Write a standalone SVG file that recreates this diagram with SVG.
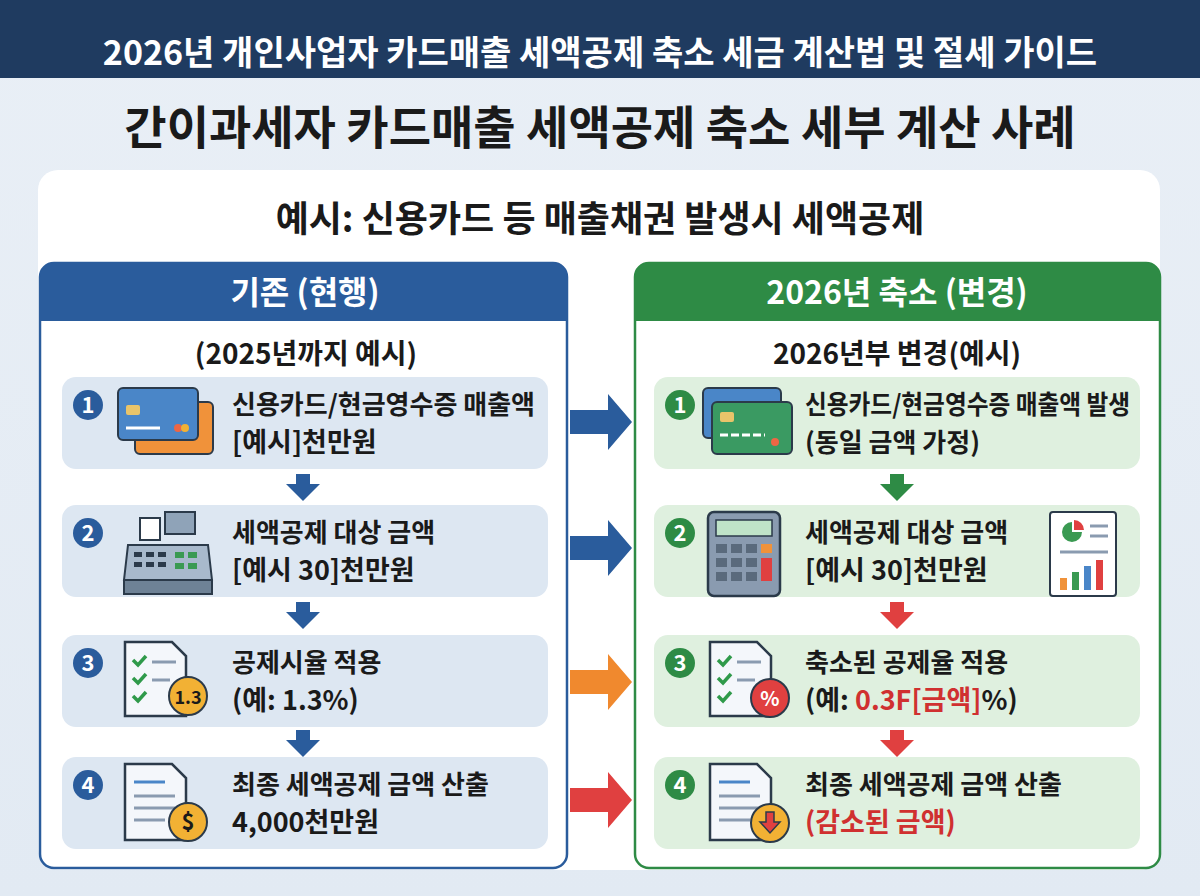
<svg xmlns="http://www.w3.org/2000/svg" width="1200" height="896" viewBox="0 0 1200 896">
<style>
text{font-family:"Noto Sans CJK KR","Noto Sans",sans-serif;font-weight:700;fill:#1a1a1a}
.lstep{fill:#dde7f2}
.rstep{fill:#dff0df}
.num{font-size:22px;fill:#fff;text-anchor:middle}
.t1{font-size:26px}
.t2{font-size:27px}
.doc{fill:#f4f7fb;stroke:#2b3a4a;stroke-width:2.5}
.ln{stroke:#8a9bb0;stroke-width:3}
.chk{fill:none;stroke:#2f9a4a;stroke-width:3.5}
</style>
<defs>
<linearGradient id="bg" x1="0" y1="0" x2="0" y2="1"><stop offset="0" stop-color="#e9eff6"/><stop offset="1" stop-color="#e2eaf3"/></linearGradient>
</defs>
<rect width="1200" height="896" fill="url(#bg)"/>
<rect width="1200" height="78" fill="#1f3b60"/>
<text x="600" y="65" font-size="34" text-anchor="middle" style="fill:#fff">2026년 개인사업자 카드매출 세액공제 축소 세금 계산법 및 절세 가이드</text>
<text x="600" y="144" font-size="46" text-anchor="middle">간이과세자 카드매출 세액공제 축소 세부 계산 사례</text>
<rect x="38" y="170" width="1122" height="700" rx="20" fill="#fff"/>
<text x="600" y="232" font-size="36" text-anchor="middle">예시: 신용카드 등 매출채권 발생시 세액공제</text>

<g id="left-col">
<rect x="40" y="263" width="527" height="605" rx="14" fill="#fff" stroke="#2a5c9c" stroke-width="2.5"/>
<path d="M40 321 V277 a14 14 0 0 1 14 -14 H553 a14 14 0 0 1 14 14 V321 Z" fill="#2a5c9c"/>
<text x="305" y="304" font-size="32" text-anchor="middle" style="fill:#fff">기존 (현행)</text>
<text x="306" y="364" font-size="28" text-anchor="middle">(2025년까지 예시)</text>
</g>
<g id="right-col">
<rect x="635" y="263" width="525" height="605" rx="14" fill="#fff" stroke="#2e8b45" stroke-width="2.5"/>
<path d="M635 321 V277 a14 14 0 0 1 14 -14 H1146 a14 14 0 0 1 14 14 V321 Z" fill="#2e8b45"/>
<text x="897" y="304" font-size="32" text-anchor="middle" style="fill:#fff">2026년 축소 (변경)</text>
<text x="897" y="364" font-size="28" text-anchor="middle">2026년부 변경(예시)</text>
</g>

<g id="L1">
<rect class="lstep" x="62" y="377" width="486" height="92" rx="14"/>
<circle cx="88" cy="405" r="15" fill="#2a5c9c"/><text class="num" x="88" y="413">1</text>
<rect x="135" y="402" width="78" height="52" rx="5" fill="#f0923a" stroke="#2b3a4a" stroke-width="2"/>
<rect x="118" y="388" width="80" height="52" rx="5" fill="#4a86c8" stroke="#2b3a4a" stroke-width="2"/>
<rect x="126" y="405" width="14" height="10" rx="2" fill="#e9c46a"/>
<line x1="126" y1="428" x2="160" y2="428" stroke="#fff" stroke-width="3"/>
<circle cx="178" cy="428" r="4" fill="#e64"/><circle cx="185" cy="428" r="4" fill="#f2b134"/>
<text class="t1" x="232" y="414">신용카드/현금영수증 매출액</text>
<text class="t2" x="232" y="452">[예시]천만원</text>
</g>
<g id="L2">
<rect class="lstep" x="62" y="505" width="486" height="92" rx="14"/>
<circle cx="88" cy="533" r="15" fill="#2a5c9c"/><text class="num" x="88" y="541">2</text>
<rect x="165" y="512" width="30" height="22" fill="#8fa3b8" stroke="#2b3a4a" stroke-width="2"/>
<rect x="140" y="518" width="20" height="22" fill="#fff" stroke="#2b3a4a" stroke-width="2"/>
<path d="M128 545 H208 L212 580 H124 Z" fill="#a8b9cc" stroke="#2b3a4a" stroke-width="2"/>
<rect x="124" y="580" width="88" height="14" fill="#6e8296" stroke="#2b3a4a" stroke-width="2"/>
<g fill="#2b3a4a"><rect x="134" y="552" width="8" height="5"/><rect x="146" y="552" width="8" height="5"/><rect x="158" y="552" width="8" height="5"/><rect x="134" y="562" width="8" height="5"/><rect x="146" y="562" width="8" height="5"/><rect x="158" y="562" width="8" height="5"/></g>
<g fill="#3a9a52"><rect x="175" y="552" width="9" height="6"/><rect x="188" y="552" width="9" height="6"/><rect x="175" y="563" width="9" height="6"/><rect x="188" y="563" width="9" height="6"/></g>
<text class="t1" x="232" y="542">세액공제 대상 금액</text>
<text class="t2" x="232" y="580">[예시 30]천만원</text>
</g>
<g id="L3">
<rect class="lstep" x="62" y="635" width="486" height="92" rx="14"/>
<circle cx="88" cy="663" r="15" fill="#2a5c9c"/><text class="num" x="88" y="671">3</text>
<path class="doc" d="M125 642 H172 L186 656 V716 H125 Z"/>
<path class="chk" d="M133 660 l5 5 l8 -9 M133 678 l5 5 l8 -9 M133 696 l5 5 l8 -9"/>
<line class="ln" x1="152" y1="662" x2="176" y2="662"/><line class="ln" x1="152" y1="680" x2="170" y2="680"/>
<circle cx="188" cy="696" r="19" fill="#f2b134" stroke="#2b3a4a" stroke-width="2"/>
<text x="188" y="704" font-size="18" text-anchor="middle">1.3</text>
<text class="t1" x="232" y="672">공제시율 적용</text>
<text class="t2" x="232" y="710">(예: 1.3%)</text>
</g>
<g id="L4">
<rect class="lstep" x="62" y="757" width="486" height="92" rx="14"/>
<circle cx="88" cy="785" r="15" fill="#2a5c9c"/><text class="num" x="88" y="793">4</text>
<path class="doc" d="M125 764 H172 L186 778 V840 H125 Z"/>
<line x1="134" y1="782" x2="165" y2="782" stroke="#4a86c8" stroke-width="3"/>
<line class="ln" x1="134" y1="796" x2="175" y2="796"/><line class="ln" x1="134" y1="808" x2="175" y2="808"/><line class="ln" x1="134" y1="820" x2="165" y2="820"/>
<circle cx="188" cy="822" r="19" fill="#f2b134" stroke="#2b3a4a" stroke-width="2"/>
<text x="188" y="830" font-size="22" text-anchor="middle">$</text>
<text class="t1" x="232" y="794">최종 세액공제 금액 산출</text>
<text class="t2" x="232" y="832">4,000천만원</text>
</g>

<g id="R1">
<rect class="rstep" x="654" y="377" width="486" height="92" rx="14"/>
<circle cx="680" cy="405" r="15" fill="#2e8b45"/><text class="num" x="680" y="413">1</text>
<rect x="703" y="388" width="78" height="50" rx="5" fill="#4a86c8" stroke="#2b3a4a" stroke-width="2"/>
<rect x="712" y="402" width="80" height="52" rx="5" fill="#3a9a62" stroke="#2b3a4a" stroke-width="2"/>
<rect x="720" y="412" width="14" height="10" rx="2" fill="#e9c46a"/>
<line x1="720" y1="435" x2="765" y2="435" stroke="#fff" stroke-width="3" stroke-dasharray="8 3"/>
<circle cx="775" cy="442" r="4" fill="#e64"/>
<text class="t1" x="805" y="414" textLength="325" lengthAdjust="spacingAndGlyphs">신용카드/현금영수증 매출액 발생</text>
<text class="t1" x="805" y="452">(동일 금액 가정)</text>
</g>
<g id="R2">
<rect class="rstep" x="654" y="505" width="486" height="92" rx="14"/>
<circle cx="680" cy="533" r="15" fill="#2e8b45"/><text class="num" x="680" y="541">2</text>
<rect x="708" y="512" width="72" height="84" rx="6" fill="#8a9bb0" stroke="#2b3a4a" stroke-width="2.5"/>
<rect x="716" y="520" width="56" height="16" fill="#bfe3c8" stroke="#2b3a4a" stroke-width="1.5"/>
<g fill="#5a6a7c"><rect x="716" y="544" width="11" height="9"/><rect x="731" y="544" width="11" height="9"/><rect x="746" y="544" width="11" height="9"/><rect x="716" y="558" width="11" height="9"/><rect x="731" y="558" width="11" height="9"/><rect x="746" y="558" width="11" height="9"/><rect x="716" y="572" width="11" height="9"/><rect x="731" y="572" width="11" height="9"/><rect x="746" y="572" width="11" height="9"/></g>
<rect x="761" y="544" width="11" height="9" fill="#f0923a"/><rect x="761" y="558" width="11" height="23" fill="#e04040"/>
<text class="t1" x="805" y="542">세액공제 대상 금액</text>
<text class="t2" x="805" y="580">[예시 30]천만원</text>
<rect x="1050" y="512" width="66" height="84" rx="3" fill="#fff" stroke="#2b3a4a" stroke-width="2"/>
<path d="M1072 522 a10 10 0 1 0 10 10 h-10 z" fill="#3a9a52"/><path d="M1074 520 v10 h10 a10 10 0 0 0 -10 -10z" fill="#e04040"/>
<line class="ln" x1="1090" y1="526" x2="1108" y2="526"/><line class="ln" x1="1090" y1="536" x2="1108" y2="536"/><line class="ln" x1="1060" y1="552" x2="1108" y2="552"/>
<rect x="1060" y="578" width="7" height="12" fill="#f0923a"/><rect x="1072" y="572" width="7" height="18" fill="#3a9a52"/><rect x="1084" y="566" width="7" height="24" fill="#4a86c8"/><rect x="1096" y="560" width="7" height="30" fill="#e04040"/>
</g>
<g id="R3">
<rect class="rstep" x="654" y="635" width="486" height="92" rx="14"/>
<circle cx="680" cy="663" r="15" fill="#2e8b45"/><text class="num" x="680" y="671">3</text>
<path class="doc" d="M710 642 H757 L771 656 V716 H710 Z"/>
<path class="chk" d="M718 660 l5 5 l8 -9 M718 678 l5 5 l8 -9 M718 696 l5 5 l8 -9"/>
<line class="ln" x1="737" y1="662" x2="761" y2="662"/><line class="ln" x1="737" y1="680" x2="755" y2="680"/>
<circle cx="770" cy="698" r="19" fill="#e04040" stroke="#2b3a4a" stroke-width="2"/>
<text x="770" y="706" font-size="20" text-anchor="middle" style="fill:#fff">%</text>
<text class="t1" x="805" y="672">축소된 공제율 적용</text>
<text class="t2" x="805" y="710">(예: <tspan style="fill:#d03030">0.3F[금액]</tspan>%)</text>
</g>
<g id="R4">
<rect class="rstep" x="654" y="757" width="486" height="92" rx="14"/>
<circle cx="680" cy="785" r="15" fill="#2e8b45"/><text class="num" x="680" y="793">4</text>
<path class="doc" d="M710 764 H757 L771 778 V840 H710 Z"/>
<line x1="719" y1="782" x2="750" y2="782" stroke="#4a86c8" stroke-width="3"/>
<line class="ln" x1="719" y1="796" x2="760" y2="796"/><line class="ln" x1="719" y1="808" x2="760" y2="808"/><line class="ln" x1="719" y1="820" x2="750" y2="820"/>
<circle cx="770" cy="823" r="19" fill="#f2b134" stroke="#2b3a4a" stroke-width="2"/>
<path d="M766 812 h8 v10 h6 l-10 11 l-10 -11 h6z" fill="#e04040" stroke="#2b3a4a" stroke-width="1.5"/>
<text class="t1" x="805" y="794">최종 세액공제 금액 산출</text>
<text class="t2" x="805" y="832" style="fill:#d03030">(감소된 금액)</text>
</g>

<g id="connectors">
<path d="M296 474 h14 v10 h10 l-17 17 l-17 -17 h10z" fill="#2a5c9c"/>
<path d="M296 602 h14 v10 h10 l-17 17 l-17 -17 h10z" fill="#2a5c9c"/>
<path d="M296 730 h14 v10 h10 l-17 17 l-17 -17 h10z" fill="#2a5c9c"/>
<path d="M890 474 h14 v10 h10 l-17 17 l-17 -17 h10z" fill="#2e8b45"/>
<path d="M890 602 h14 v10 h10 l-17 17 l-17 -17 h10z" fill="#e04040"/>
<path d="M890 730 h14 v10 h10 l-17 17 l-17 -17 h10z" fill="#e04040"/>
<path d="M570 410 h38 v-16 l24 28 l-24 28 v-16 h-38z" fill="#2a5c9c"/>
<path d="M570 536 h38 v-16 l24 28 l-24 28 v-16 h-38z" fill="#2a5c9c"/>
<path d="M570 670 h38 v-16 l24 28 l-24 28 v-16 h-38z" fill="#f0892e"/>
<path d="M570 788 h38 v-16 l24 28 l-24 28 v-16 h-38z" fill="#e04040"/>
</g>
</svg>
